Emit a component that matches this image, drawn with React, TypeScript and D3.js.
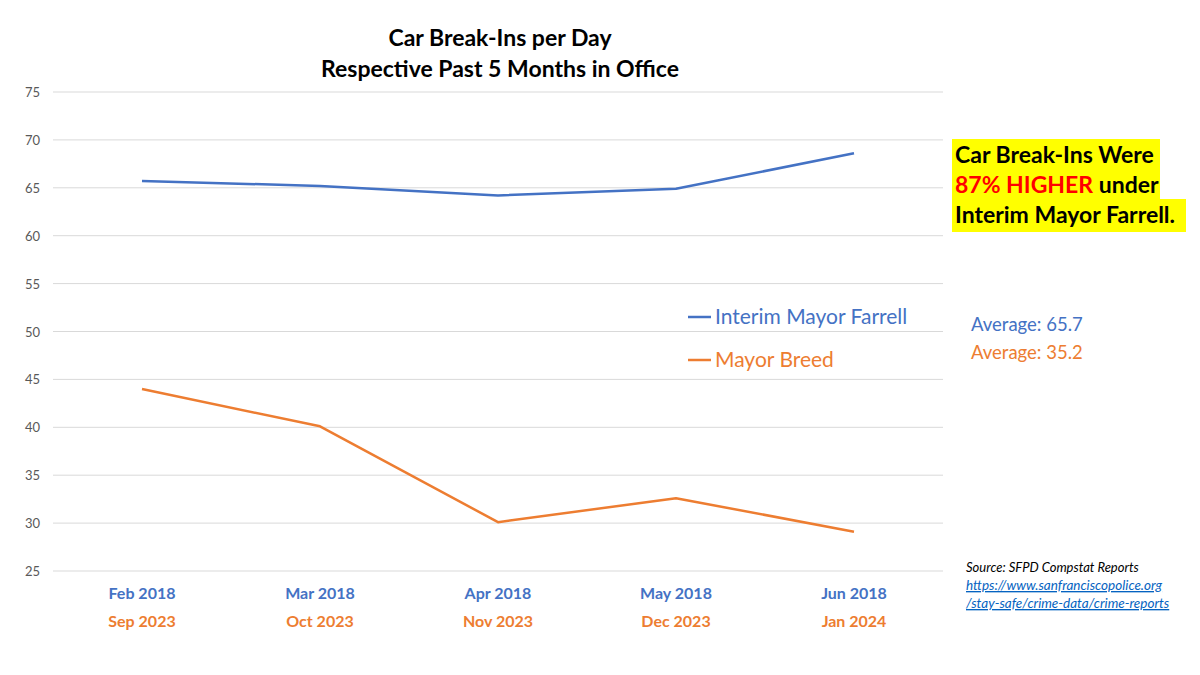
import React from "react";
import * as d3 from "d3";

const monthsFarrell = ["Feb 2018", "Mar 2018", "Apr 2018", "May 2018", "Jun 2018"];
const monthsBreed = ["Sep 2023", "Oct 2023", "Nov 2023", "Dec 2023", "Jan 2024"];
const farrellValues = [65.7, 65.2, 64.2, 64.9, 68.6];
const breedValues = [44.0, 40.1, 30.1, 32.6, 29.1];
const yTicks = [25, 30, 35, 40, 45, 50, 55, 60, 65, 70, 75];
const seriesNames = ["Interim Mayor Farrell", "Mayor Breed"];
const averages = ["Average: 65.7", "Average: 35.2"];

const BLUE = "#4472C4";
const ORANGE = "#ED7D31";
const FONT = "Lato, 'Open Sans', sans-serif";

export default function App() {
  const W = 1200, H = 675;
  const left = 53, right = 943, top = 92, bottom = 571;
  const x = d3.scaleBand<number>().domain(d3.range(5)).range([left, right]).padding(0);
  const cx = (i: number) => (x(i) as number) + x.bandwidth() / 2;
  const y = d3.scaleLinear().domain([25, 75]).range([bottom, top]);
  const line = d3.line<number>().x((_, i) => cx(i)).y((d) => y(d));

  return (
    <svg width={W} height={H} style={{ position: "absolute", left: 0, top: 0, background: "#fff" }} fontFamily={FONT}>
      <rect width={W} height={H} fill="#fff" />
      <text x={500} y={46} textAnchor="middle" fontSize={23} fontWeight="bold" fill="#000">Car Break-Ins per Day</text>
      <text x={500} y={77} textAnchor="middle" fontSize={23} fontWeight="bold" fill="#000">Respective Past 5 Months in Office</text>

      {yTicks.map((t) => (
        <g key={t}>
          <line x1={left} x2={right} y1={y(t)} y2={y(t)} stroke="#d9d9d9" strokeWidth={1} />
          <text x={40} y={y(t) + 5} textAnchor="end" fontSize={13} fill="#595959">{t}</text>
        </g>
      ))}

      <path d={line(farrellValues) || ""} fill="none" stroke={BLUE} strokeWidth={2.5} strokeLinejoin="round" />
      <path d={line(breedValues) || ""} fill="none" stroke={ORANGE} strokeWidth={2.5} strokeLinejoin="round" />

      {monthsFarrell.map((m, i) => (
        <text key={m} x={cx(i)} y={599} textAnchor="middle" fontSize={16} fontWeight="bold" fill={BLUE}>{m}</text>
      ))}
      {monthsBreed.map((m, i) => (
        <text key={m} x={cx(i)} y={627} textAnchor="middle" fontSize={16} fontWeight="bold" fill={ORANGE}>{m}</text>
      ))}

      {seriesNames.map((s, i) => (
        <g key={s}>
          <line x1={688} x2={711} y1={317 + i * 43} y2={317 + i * 43} stroke={i === 0 ? BLUE : ORANGE} strokeWidth={2.5} />
          <text x={715} y={324 + i * 43} fontSize={21} fill={i === 0 ? BLUE : ORANGE}>{s}</text>
        </g>
      ))}

      <rect x={952} y={139} width={208} height={93} fill="#FFFF00" />
      <rect x={952} y={199} width={234} height={33} fill="#FFFF00" />
      <text x={955} y={163} fontSize={23} fontWeight="bold" fill="#000">Car Break-Ins Were</text>
      <text x={955} y={193} fontSize={23} fontWeight="bold" fill="#000">
        <tspan fill="#FF0000">87% HIGHER</tspan> under
      </text>
      <text x={955} y={223} fontSize={23} fontWeight="bold" fill="#000">Interim Mayor Farrell.</text>

      {averages.map((a, i) => (
        <text key={a} x={971} y={331 + i * 28} fontSize={18.5} fill={i === 0 ? BLUE : ORANGE}>{a}</text>
      ))}

      <text x={966} y={572} fontSize={13} fontStyle="italic" fill="#000">Source: SFPD Compstat Reports</text>
      <text x={966} y={590} fontSize={13.5} fontStyle="italic" fill="#0563C1" textDecoration="underline">https://www.sanfranciscopolice.org</text>
      <text x={966} y={608} fontSize={13.5} fontStyle="italic" fill="#0563C1" textDecoration="underline">/stay-safe/crime-data/crime-reports</text>
    </svg>
  );
}
